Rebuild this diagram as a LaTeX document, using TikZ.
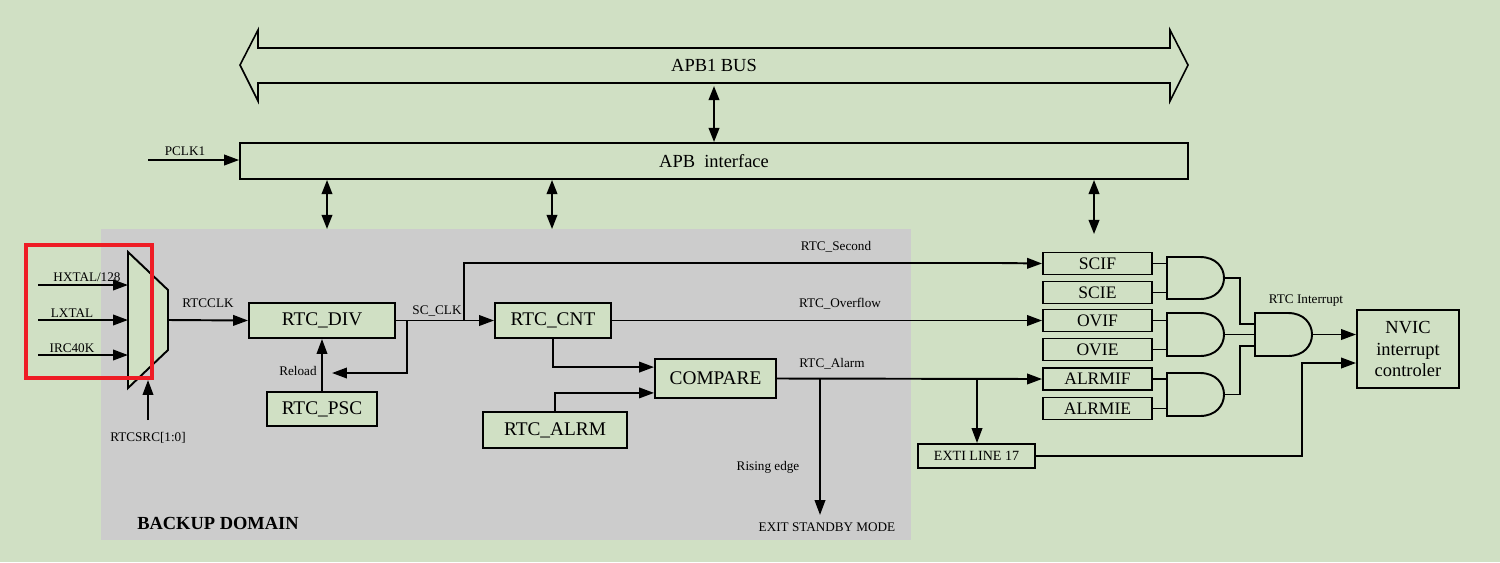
\documentclass[tikz,border=0pt]{standalone}
\usepackage{fontspec}
\setmainfont{Liberation Serif}
\usetikzlibrary{arrows.meta}

\definecolor{bgreen}{HTML}{D0E0C4}
\definecolor{bgray}{HTML}{CCCCCC}
\definecolor{redmark}{HTML}{EE1C25}

\tikzset{
  blk/.style={draw, line width=1.1pt, fill=bgreen, inner sep=0pt, font=\fontsize{11}{13}\selectfont},
  flag/.style={blk, minimum width=2.18cm, minimum height=0.44cm, font=\fontsize{10}{12}\selectfont},
  arr/.style={line width=1.1pt, -{Triangle[length=8.5pt,width=6pt]}},
  darr/.style={line width=1.1pt, {Triangle[length=8pt,width=6pt]}-{Triangle[length=8pt,width=6pt]}},
  ln/.style={line width=1.1pt},
  lbl/.style={font=\fontsize{7.5}{9}\selectfont, inner sep=0pt}
}

% and gate: name, left x, top y, bottom y
\newcommand{\andgate}[4]{
  \draw[ln, fill=bgreen] (#2,#3) -- (#2+33,#3) .. controls (#2+65,#3) and (#2+65,#4) .. (#2+33,#4) -- (#2,#4) -- cycle;
  \coordinate (#1-o) at (#2+58,{(#3+#4)/2});
}

\begin{document}
\begin{tikzpicture}[x=0.02cm, y=-0.02cm]
\fill[bgreen] (0,0) rectangle (1500,562);
\useasboundingbox (0,0) rectangle (1500,562);
\fill[bgray] (101,229) rectangle (911,540);

% bus
\draw[line width=0.9pt, fill=bgreen] (240,65) -- (258,30) -- (258,48) -- (1170,48) -- (1170,30) -- (1188,65)
  -- (1170,101) -- (1170,83) -- (258,83) -- (258,101) -- cycle;
\node[font=\fontsize{10.5}{12}\selectfont] (bus) at (714,65) {APB1 BUS};
\node[blk, minimum width=18.96cm, minimum height=0.72cm, font=\fontsize{10.5}{12}\selectfont] (apb) at (714,161) {APB\ \ interface};
\coordinate (busb) at (714,86);
\draw[darr] (busb) -- (apb.north);
\coordinate (pclk) at (148,160);
\draw[arr] (pclk) -- (apb.west |- pclk);
\node[lbl] at (185,151) {PCLK1};

% mux
\draw[ln, fill=bgreen] (128,252) -- (168,290) -- (168,350) -- (128,388) -- cycle;
\coordinate (m1) at (128,285);
\coordinate (m2) at (128,320);
\coordinate (m3) at (128,355);
\coordinate (mo) at (168,320);
\coordinate (i1) at (38,285);
\coordinate (i2) at (38,320);
\coordinate (i3) at (38,355);
\draw[arr] (i1) -- (m1);
\draw[arr] (i2) -- (m2);
\draw[arr] (i3) -- (m3);
\node[lbl, anchor=south] at (87,282) {HXTAL/128};
\node[lbl, anchor=south] at (72,318) {LXTAL};
\node[lbl, anchor=south] at (72,353) {IRC40K};
\coordinate (src) at (148,420);
\coordinate (msrc) at (148,380);
\draw[arr] (src) -- (msrc);
\node[lbl] at (148,438) {RTCSRC[1:0]};
\draw[redmark, line width=2.2pt] (26,245) rectangle (152,378);

% blocks
\node[blk, minimum width=2.92cm, minimum height=0.7cm] (div) at (322,320.5) {RTC\_DIV};
\node[blk, minimum width=2.2cm, minimum height=0.68cm] (psc) at (322,409) {RTC\_PSC};
\node[blk, minimum width=2.32cm, minimum height=0.7cm] (cnt) at (553,320.5) {RTC\_CNT};
\node[blk, minimum width=2.42cm, minimum height=0.78cm] (cmp) at (715.5,378.5) {COMPARE};
\node[blk, minimum width=2.88cm, minimum height=0.72cm] (alrm) at (555,430) {RTC\_ALRM};
\node[blk, minimum width=2.34cm, minimum height=0.48cm, font=\fontsize{8}{10}\selectfont] (exti) at (976.5,456) {EXTI LINE 17};

\node[flag] (scif) at (1097.5,263.5) {SCIF};
\node[flag] (scie) at (1097.5,292.5) {SCIE};
\node[flag] (ovif) at (1097.5,320.5) {OVIF};
\node[flag] (ovie) at (1097.5,349.5) {OVIE};
\node[flag] (alrmif) at (1097.5,379) {ALRMIF};
\node[flag] (alrmie) at (1097.5,408.5) {ALRMIE};
\node[blk, minimum width=2.04cm, minimum height=1.56cm, align=center, font=\fontsize{10.5}{12.5}\selectfont] (nvic) at (1408,349) {NVIC\\interrupt\\controler};

% apb links
\coordinate (d1) at (327,229);
\coordinate (d2) at (552,229);
\coordinate (d3) at (1094,234);
\draw[darr] (apb.south -| d1) -- (d1);
\draw[darr] (apb.south -| d2) -- (d2);
\draw[darr] (apb.south -| d3) -- (d3);

% clock path
\draw[arr] (mo) -- (div.west);
\node[lbl] at (208,303) {RTCCLK};
\draw[arr] (psc.north) -- (div.south);
\coordinate (rl) at (332,373);
\coordinate (sc) at (407,320);
\draw[arr] (sc) |- (rl);
\node[lbl] at (298,371) {Reload};
\draw[arr] (div.east) -- (cnt.west);
\node[lbl] at (437,311) {SC\_CLK};
\coordinate (sec) at (464,320);
\draw[arr] (sec) |- (1000,263) -- (scif.west);
\node[lbl] at (836,247) {RTC\_Second};
\draw[arr] (cnt.east) -- (ovif.west);
\node[lbl] at (840,304) {RTC\_Overflow};
\draw[arr] (cnt.south) |- ([yshift=6.5pt]cmp.west);
\draw[arr] (alrm.north) |- ([yshift=-8.2pt]cmp.west);
\draw[arr] (cmp.east) -- (alrmif.west);
\node[lbl] at (832,364) {RTC\_Alarm};
\coordinate (al1) at (820,378.5);
\coordinate (exit) at (820,515);
\draw[arr] (al1) -- (exit);
\node[lbl] at (768,467) {Rising edge};
\node[lbl] at (827,527) {EXIT STANDBY MODE};
\coordinate (al2) at (977,378.5);
\draw[arr] (al2) -- (exti.north -| al2);
\coordinate (ex) at (1302,363);
\draw[arr] (exti.east) -| (ex) -- (nvic.west |- ex);

% gates
\andgate{g1}{1167}{257}{299}
\andgate{g2}{1167}{313}{356}
\andgate{g3}{1167}{373}{416}
\andgate{g4}{1255}{313}{356}
\draw[ln] (scif.east) -- (1167,263.5);
\draw[ln] (scie.east) -- (1167,292.5);
\draw[ln] (ovif.east) -- (1167,320.5);
\draw[ln] (ovie.east) -- (1167,349.5);
\draw[ln] (alrmif.east) -- (1167,379);
\draw[ln] (alrmie.east) -- (1167,408.5);
\draw[ln] (g1-o) -| (1240,324) -- (1255,324);
\draw[ln] (g2-o) -- (1255,334.5);
\draw[ln] (g3-o) -| (1240,346) -- (1255,346);
\draw[arr] (g4-o) -- (nvic.west |- g4-o);
\node[lbl] at (1306,301) {RTC Interrupt};

\node[font=\bfseries\fontsize{10.5}{12}\selectfont] at (218,523) {BACKUP DOMAIN};
\end{tikzpicture}
\end{document}
